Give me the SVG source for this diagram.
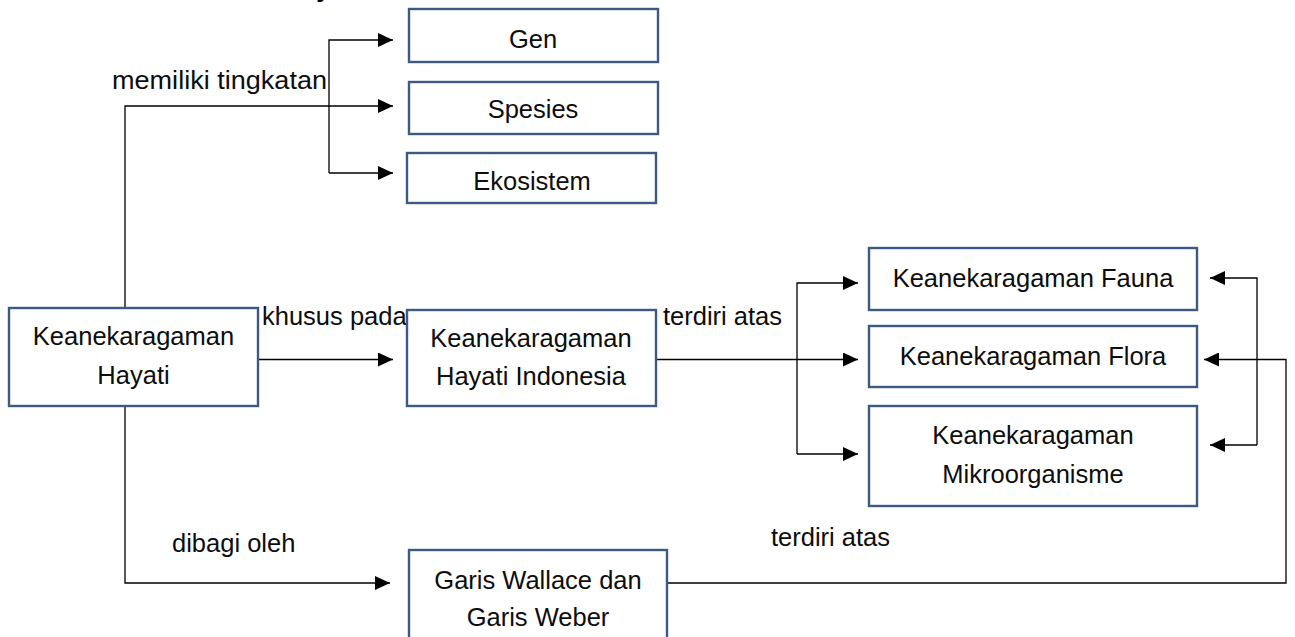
<svg xmlns="http://www.w3.org/2000/svg" width="1295" height="637" viewBox="0 0 1295 637">
<defs>
<marker id="arr" markerUnits="userSpaceOnUse" markerWidth="15" markerHeight="14" refX="15" refY="7" orient="auto">
<path d="M0,0 L15,7 L0,14 Z" fill="#000"/>
</marker>
<style>
.box{fill:#fff;stroke:#3C5A82;stroke-width:2.4}
.t{font-family:"Liberation Sans",Arial,sans-serif;font-size:25.5px;fill:#0d0d0d}
.c{text-anchor:middle}
.ln{fill:none;stroke:#000;stroke-width:1.3}
.a{marker-end:url(#arr)}
</style>
</defs>
<rect width="1295" height="637" fill="#fff"/>
<text x="318" y="-4" font-family="Liberation Sans, Arial, sans-serif" font-size="28" font-weight="bold" fill="#000">j</text>
<g id="connectors">
<path class="ln" d="M125,308 V106 H393" style="marker-end:url(#arr)"/>
<path class="ln" d="M329,173 V40 H393" style="marker-end:url(#arr)"/>
<path class="ln a" d="M329,173 H393"/>
<path class="ln a" d="M258,359.5 H393"/>
<path class="ln a" d="M656,359.5 H858"/>
<path class="ln" d="M797,454 V283 H858" style="marker-end:url(#arr)"/>
<path class="ln a" d="M797,454 H858"/>
<path class="ln a" d="M125,406 V583 H390"/>
<path class="ln a" d="M667,583 H1286 V359.5 H1204"/>
<path class="ln" d="M1257,445 V278 H1210" style="marker-end:url(#arr)"/>
<path class="ln a" d="M1257,445 H1210"/>
<text class="t" x="112" y="89" textLength="215" lengthAdjust="spacingAndGlyphs">memiliki tingkatan</text>
<text class="t" x="262" y="325">khusus pada</text>
<text class="t" x="663" y="325">terdiri atas</text>
<text class="t" x="172" y="552">dibagi oleh</text>
<text class="t" x="771" y="546">terdiri atas</text>
</g>
<g id="gen"><rect class="box" x="409" y="9" width="249" height="53"/><text class="t c" x="533" y="48">Gen</text></g>
<g id="spesies"><rect class="box" x="409" y="82" width="249" height="52"/><text class="t c" x="533" y="118">Spesies</text></g>
<g id="ekosistem"><rect class="box" x="407" y="153" width="249" height="50"/><text class="t c" x="532" y="190">Ekosistem</text></g>
<g id="hayati"><rect class="box" x="9" y="308" width="249" height="98"/><text class="t c" x="133.5" y="345">Keanekaragaman</text><text class="t c" x="133.5" y="384">Hayati</text></g>
<g id="indonesia"><rect class="box" x="407" y="310" width="249" height="96"/><text class="t c" x="531" y="347">Keanekaragaman</text><text class="t c" x="531" y="385">Hayati Indonesia</text></g>
<g id="fauna"><rect class="box" x="869" y="248" width="328" height="62"/><text class="t c" x="1033" y="287">Keanekaragaman Fauna</text></g>
<g id="flora"><rect class="box" x="869" y="326" width="328" height="61"/><text class="t c" x="1033" y="365">Keanekaragaman Flora</text></g>
<g id="mikro"><rect class="box" x="869" y="406" width="328" height="100"/><text class="t c" x="1033" y="444">Keanekaragaman</text><text class="t c" x="1033" y="483">Mikroorganisme</text></g>
<g id="garis"><rect class="box" x="409" y="550" width="258" height="100"/><text class="t c" x="538" y="589">Garis Wallace dan</text><text class="t c" x="538" y="626">Garis Weber</text></g>
</svg>
